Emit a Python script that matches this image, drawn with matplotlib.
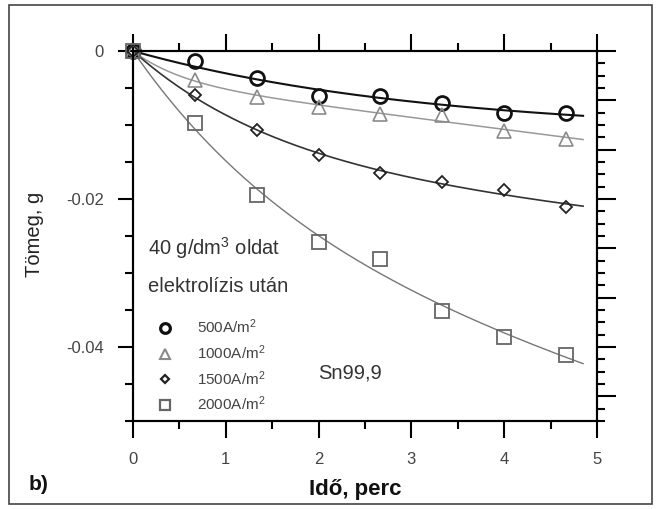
import matplotlib
matplotlib.use('Agg')
import matplotlib.pyplot as plt
import numpy as np
from matplotlib.ticker import MultipleLocator, FuncFormatter
from matplotlib.lines import Line2D
from matplotlib.patches import Rectangle

plt.rcParams['font.family'] = ['Liberation Sans', 'DejaVu Sans']
plt.rcParams['mathtext.default'] = 'regular'
plt.rcParams['axes.unicode_minus'] = False

# ido (perc)
ido = [0, 0.667, 1.333, 2.0, 2.667, 3.333, 4.0, 4.667]

# tomegvaltozas (g), leolvasva
m500 = [0, -0.00135, -0.00365, -0.0061, -0.0061, -0.0070, -0.0084, -0.0084]
m1000 = [0, -0.0039, -0.0062, -0.0075, -0.0085, -0.0087, -0.0108, -0.0119]
m1500 = [0, -0.0059, -0.0107, -0.0141, -0.0165, -0.0177, -0.0188, -0.0211]
m2000 = [0, -0.0097, -0.0195, -0.0258, -0.0281, -0.0351, -0.0386, -0.0411]

labels = ['500A/m$^2$', '1000A/m$^2$', '1500A/m$^2$', '2000A/m$^2$']


def illeszt(x, y):
    # y = a*(1-exp(-b*x)) + c*x ; b racson, a es c legkisebb negyzetekkel
    best = None
    for b in np.linspace(0.05, 3, 300):
        M = np.column_stack([1 - np.exp(-b * x), x])
        coef = np.linalg.lstsq(M, y, rcond=None)[0]
        if coef[0] * coef[1] < 0:
            continue
        err = ((M @ coef - y) ** 2).sum()
        if best is None or err < best[0]:
            best = (err, coef, b)
    return best[1], best[2]


W, H = 661, 509
fig = plt.figure(figsize=(W / 100, H / 100), dpi=100)
ax = fig.add_axes([133 / W, 1 - 421 / H, 464 / W, 370 / H])

x = np.array(ido)
xf = np.linspace(0, 4.85, 200)

sorozat = [
    (m500, 'o', '#111111', 2.0, 10, 1.5, '#111111'),
    (m1000, '^', '#8a8a8a', 1.2, 10, 1.1, '#999999'),
    (m1500, 'D', '#222222', 1.3, 6.5, 1.2, '#333333'),
    (m2000, 's', '#666666', 1.3, 10, 1.0, '#777777'),
]
handles = []
for (m, mk, mc, mew, ms, lw, lc), lab in zip(sorozat, labels):
    coef, b = illeszt(x, np.array(m))
    ax.plot(xf, coef[0] * (1 - np.exp(-b * xf)) + coef[1] * xf, color=lc, lw=lw, zorder=2)
    ax.plot(ido, m, mk, mfc='none', mec=mc, mew=mew, ms=ms, clip_on=False, zorder=3)
    handles.append(Line2D([], [], ls='none', marker=mk, mfc='none', mec=mc,
                          mew=mew + 0.3, ms=ms * 0.7, label=lab))

ax.set_xlim(0, 5)
ax.set_ylim(-0.05, 0)

for s in ax.spines.values():
    s.set_linewidth(1.5)
ax.xaxis.set_major_locator(MultipleLocator(1))
ax.xaxis.set_minor_locator(MultipleLocator(0.5))
ax.yaxis.set_major_locator(MultipleLocator(0.02))
ax.yaxis.set_minor_locator(MultipleLocator(0.005))
ax.yaxis.set_major_formatter(FuncFormatter(lambda v, p: '0' if abs(v) < 1e-9 else '%.2f' % v))
ax.tick_params(axis='x', which='both', direction='out', top=True, bottom=True,
               width=1.5, labelsize=12, labelcolor='#444444', pad=10)
ax.tick_params(axis='x', which='major', length=12)
ax.tick_params(axis='x', which='minor', length=5.5)
ax.tick_params(axis='y', which='both', direction='out', left=True, right=False,
               width=1.5, labelsize=12, labelcolor='#444444', pad=10)
ax.tick_params(axis='y', which='major', length=11)
ax.tick_params(axis='y', which='minor', length=5.5)

# jobb oldali tengely
ax2 = ax.twinx()
ax2.set_ylim(-7.5, 0)
ax2.yaxis.set_major_locator(MultipleLocator(1))
ax2.yaxis.set_minor_locator(MultipleLocator(0.25))
ax2.tick_params(axis='y', which='both', direction='out', width=1.5, labelright=False)
ax2.tick_params(axis='y', which='major', length=14)
ax2.tick_params(axis='y', which='minor', length=6)
for s in ax2.spines.values():
    s.set_linewidth(1.5)

ax.text(0.032, 0.449, '40 g/dm$^3$ oldat', transform=ax.transAxes, fontsize=14.5,
        color='#333333', va='baseline')
ax.text(0.032, 0.349, 'elektrolízis után', transform=ax.transAxes, fontsize=14.5,
        color='#333333', va='baseline')
ax.text(0.399, 0.116, 'Sn99,9', transform=ax.transAxes, fontsize=14.5,
        color='#333333', va='baseline')

ax.legend(handles=handles, loc='upper left', bbox_to_anchor=(0.0526, 0.279),
          frameon=False, borderaxespad=0, borderpad=0, handlelength=1.0,
          handletextpad=1.59, labelspacing=0.46, fontsize=11, labelcolor='#444444')

fig.text(35 / W, 1 - 234 / H, 'Tömeg, g', rotation=90, ha='center', va='center',
         fontsize=14.5, color='#222222')
fig.text(355 / W, 1 - 490 / H, 'Idő, perc', ha='center', va='center',
         fontsize=16, fontweight='bold', color='#111111')
fig.text(39 / W, 1 - 485 / H, 'b)', ha='center', va='center',
         fontsize=15, fontweight='bold', color='#111111')

fig.patches.append(Rectangle((9 / W, 1 - 504 / H), 643 / W, 499 / H,
                             transform=fig.transFigure, fill=False,
                             edgecolor='#444444', lw=1.2))

fig.savefig('out.png', dpi=100)
